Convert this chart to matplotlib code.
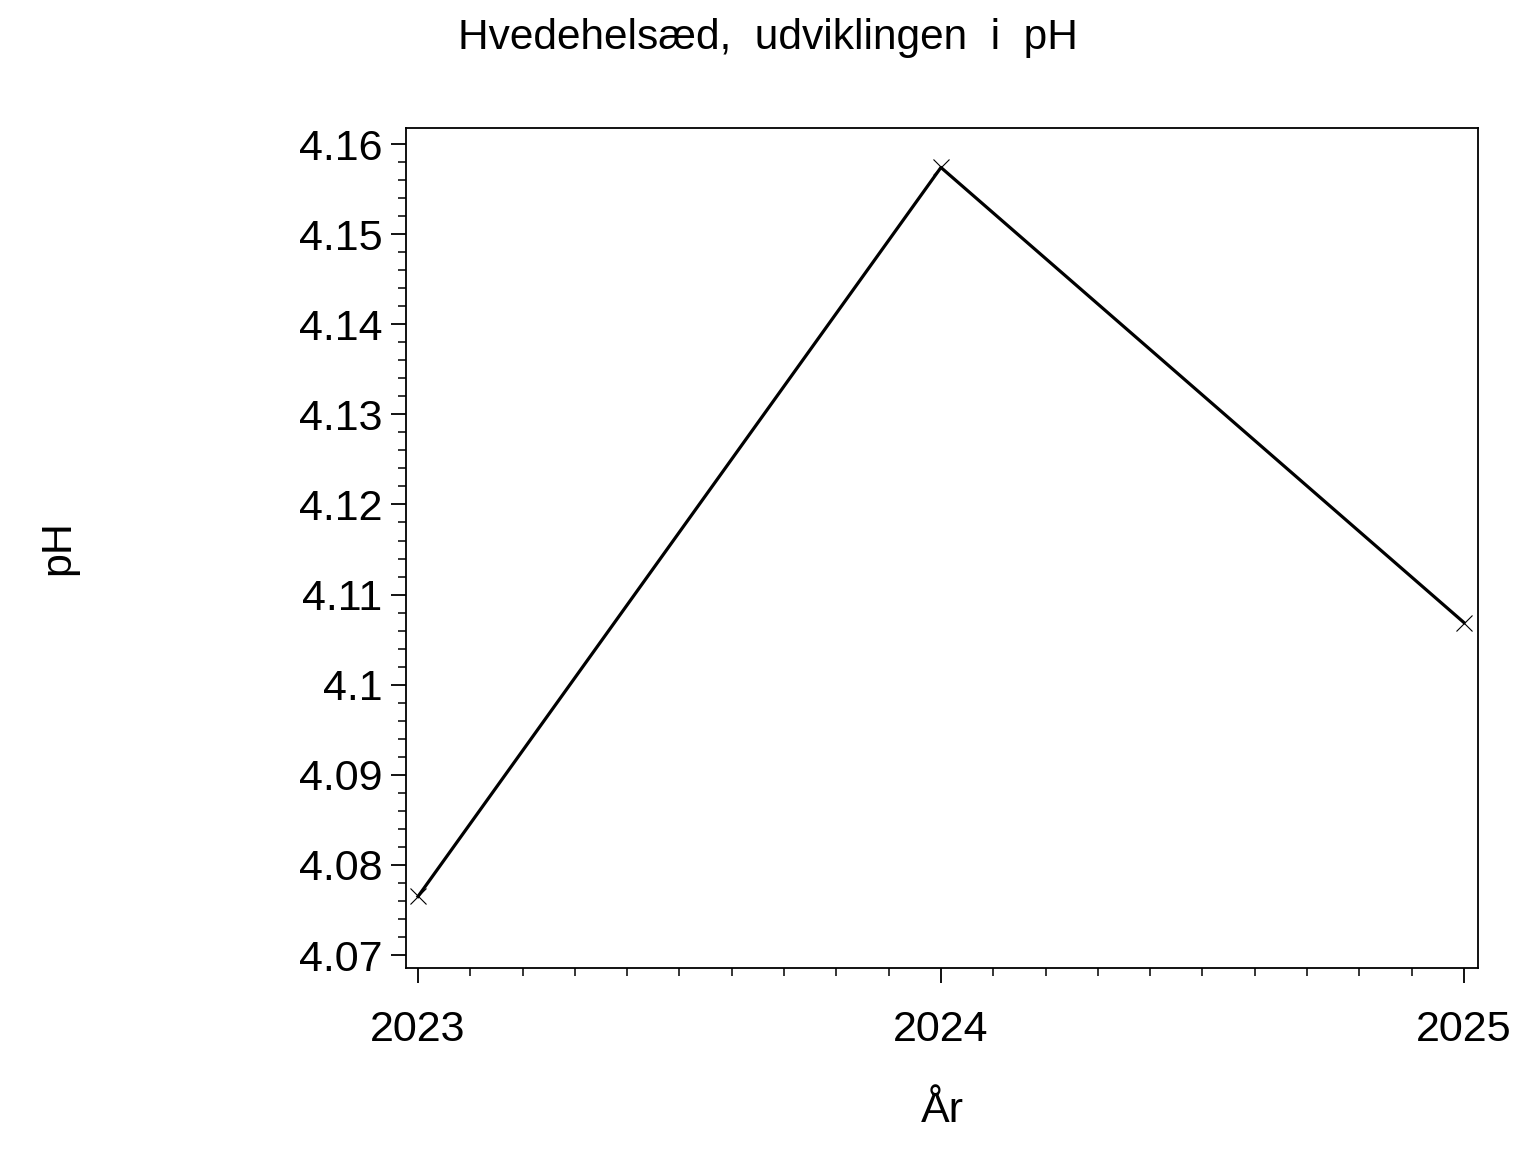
import matplotlib
matplotlib.use("Agg")
import matplotlib.pyplot as plt
from matplotlib.ticker import MultipleLocator, FixedLocator

years = [2023, 2024, 2025]
ph_values = [4.0765, 4.1574, 4.1069]
xtick_labels = ["2023", "2024", "2025"]
ytick_values = [4.07, 4.08, 4.09, 4.10, 4.11, 4.12, 4.13, 4.14, 4.15, 4.16]
ytick_labels = ["4.07", "4.08", "4.09", "4.1", "4.11", "4.12", "4.13", "4.14", "4.15", "4.16"]

plt.rcParams['font.family'] = ['Liberation Sans', 'DejaVu Sans']

fig = plt.figure(figsize=(15.36, 11.52), dpi=100)
ax = fig.add_axes([406/1536, 1 - 968/1152, (1478-406)/1536, (968-128)/1152])

ax.plot(years, ph_values, color='black', linewidth=2.3, zorder=2)
ax.plot(years, ph_values, linestyle='none', marker='x', markersize=12,
        markeredgewidth=0.8, color='black', zorder=3)

ax.set_xlim(2022.977, 2025.027)
ax.set_ylim(4.06856, 4.16178)

ax.xaxis.set_major_locator(FixedLocator(years))
ax.set_xticklabels(xtick_labels)
ax.xaxis.set_minor_locator(MultipleLocator(0.1))
ax.yaxis.set_major_locator(FixedLocator(ytick_values))
ax.set_yticklabels(ytick_labels)
ax.yaxis.set_minor_locator(MultipleLocator(0.002))

for s in ax.spines.values():
    s.set_linewidth(1.3)

ax.tick_params(axis='both', which='major', direction='out', length=11, width=1.3,
               labelsize=31)
ax.tick_params(axis='both', which='minor', direction='out', length=5.5, width=1.1)
ax.tick_params(axis='x', which='major', pad=19)
ax.tick_params(axis='y', which='major', pad=6)

ax.set_xlabel("År", fontsize=31, labelpad=30)
fig.text(58/1536, 1 - 548/1152, "pH", fontsize=31, rotation=90,
         ha='center', va='center')
fig.text(768/1536, 1 - 38/1152, "Hvedehelsæd,  udviklingen  i  pH", fontsize=30.5,
         ha='center', va='center')

fig.savefig("out.png", dpi=100)
